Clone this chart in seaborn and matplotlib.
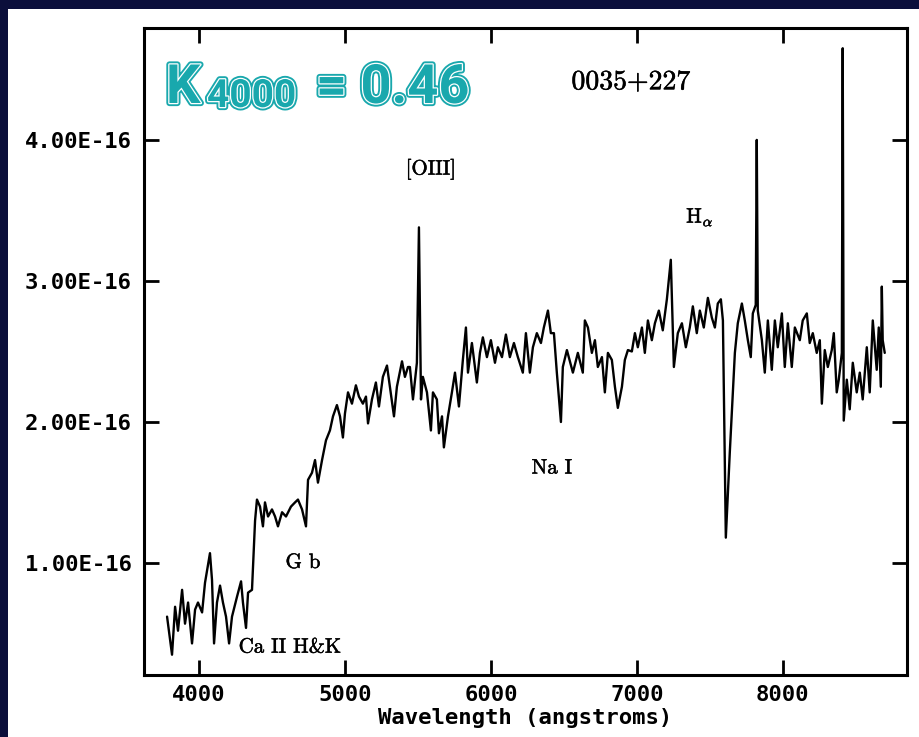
import numpy as np
import pandas as pd
import seaborn as sns
import matplotlib.pyplot as plt
import matplotlib.patheffects as pe
from matplotlib.patches import Rectangle
from matplotlib.ticker import FuncFormatter

# spectrum of 0035+227, wavelength in angstroms, flux in units of 1e-16
wavelength = [3781, 3815, 3836, 3856, 3884, 3904, 3925, 3952, 3973, 3993,
              4021, 4041, 4075, 4089, 4103, 4123, 4144, 4164, 4185, 4206,
              4226, 4260, 4288, 4301, 4322, 4336, 4363, 4384, 4397, 4418,
              4438, 4452, 4473, 4500, 4521, 4541, 4569, 4596, 4630, 4658,
              4678, 4706, 4733,
              4747, 4774, 4795, 4815, 4843, 4870, 4897, 4918, 4945, 4966,
              4986, 5000, 5021, 5048, 5075, 5096, 5123, 5144, 5158, 5185,
              5212, 5233, 5260, 5288, 5308, 5336, 5356, 5391, 5411, 5432,
              5445, 5466, 5493, 5507, 5521, 5534, 5562, 5589, 5603, 5630,
              5644, 5665, 5678, 5706, 5733, 5754, 5781, 5808, 5829, 5843,
              5870, 5891, 5904, 5925, 5945, 5973, 6000, 6028, 6048, 6076,
              6103, 6130, 6158, 6185, 6219, 6240, 6267, 6288, 6315, 6343,
              6363, 6391, 6411, 6432, 6452, 6480, 6493, 6521,
              6562, 6596, 6630, 6644, 6665, 6692, 6713, 6733, 6761, 6781,
              6802, 6829, 6850, 6870, 6898, 6918, 6939, 6966, 6987, 7007,
              7035, 7055, 7076, 7103, 7124, 7151, 7178, 7206, 7233, 7254,
              7281, 7309, 7336, 7363, 7384, 7411, 7432, 7459, 7487, 7514,
              7535, 7555, 7576, 7590, 7610, 7637, 7672, 7692, 7720, 7740,
              7761, 7781, 7795, 7815, 7822, 7829, 7857, 7877, 7898, 7925,
              7946, 7966, 7994, 8014, 8035, 8062, 8083, 8117, 8137, 8165,
              8185, 8206, 8233, 8254, 8268, 8288, 8309, 8336, 8350, 8370,
              8384, 8405, 8411, 8418, 8439, 8459, 8480, 8507, 8528, 8548,
              8576, 8596, 8617, 8644, 8658, 8672, 8679, 8685, 8699]
flux = [0.62, 0.35, 0.69, 0.52, 0.81, 0.57, 0.72, 0.43, 0.67, 0.72,
        0.65, 0.86, 1.07, 0.88, 0.43, 0.72, 0.84, 0.72, 0.62, 0.43,
        0.62, 0.76, 0.87, 0.72, 0.54, 0.79, 0.81, 1.30, 1.45, 1.40,
        1.26, 1.43, 1.33, 1.38, 1.33, 1.26, 1.36, 1.33, 1.40, 1.43,
        1.45, 1.38, 1.26,
        1.59, 1.64, 1.73, 1.57, 1.73, 1.87, 1.94, 2.04, 2.12, 2.04,
        1.89, 2.06, 2.21, 2.13, 2.26, 2.18, 2.13, 2.18, 1.99, 2.16,
        2.28, 2.11, 2.32, 2.40, 2.25, 2.04, 2.25, 2.43, 2.32, 2.39,
        2.39, 2.16, 2.42, 3.38, 2.16, 2.32, 2.21, 1.94, 2.21, 2.16,
        1.92, 2.04, 1.82, 2.04, 2.21, 2.35, 2.11, 2.44, 2.67, 2.35,
        2.56, 2.39, 2.28, 2.49, 2.60, 2.46, 2.58, 2.42, 2.53, 2.46,
        2.62, 2.46, 2.56, 2.46, 2.35, 2.63, 2.35, 2.53, 2.63, 2.56,
        2.67, 2.79, 2.63, 2.63, 2.35, 2.00, 2.39, 2.51,
        2.35, 2.49, 2.35, 2.72, 2.67, 2.49, 2.58, 2.39, 2.46, 2.21,
        2.49, 2.44, 2.25, 2.10, 2.25, 2.44, 2.51, 2.50, 2.63, 2.53,
        2.67, 2.49, 2.72, 2.58, 2.70, 2.79, 2.65, 2.87, 3.15, 2.39,
        2.63, 2.70, 2.53, 2.67, 2.82, 2.63, 2.79, 2.67, 2.88, 2.74,
        2.67, 2.84, 2.87, 2.72, 1.18, 1.78, 2.49, 2.70, 2.84, 2.72,
        2.58, 2.46, 2.77, 2.83, 4.00, 2.79, 2.58, 2.35, 2.72, 2.37,
        2.72, 2.53, 2.77, 2.39, 2.70, 2.39, 2.67, 2.58, 2.72, 2.77,
        2.56, 2.63, 2.49, 2.58, 2.13, 2.51, 2.39, 2.51, 2.63, 2.21,
        2.30, 2.49, 4.65, 2.01, 2.30, 2.09, 2.42, 2.21, 2.35, 2.16,
        2.53, 2.21, 2.72, 2.37, 2.67, 2.25, 2.96, 2.58, 2.49]

x_ticks = [4000, 5000, 6000, 7000, 8000]
y_ticks = [1e-16, 2e-16, 3e-16, 4e-16]

# line labels: (text, wavelength, flux/1e-16)
labels = [("[OIII]", 5589, 3.79),
          (r"H$_\alpha$", 7432, 3.45),
          ("Na I", 6418, 1.67),
          ("G b", 4712, 1.00),
          ("Ca II H&K", 4623, 0.40)]

df = pd.DataFrame({"wl": wavelength, "flux": np.array(flux) * 1e-16})

sns.set_style("ticks")
plt.rcParams["mathtext.fontset"] = "cm"

fig = plt.figure(figsize=(9.19, 7.37), dpi=100, facecolor="#0b0f3b")
fig.patches.append(Rectangle((8 / 919, 0), 1, (737 - 9) / 737,
                             transform=fig.transFigure, facecolor="white",
                             edgecolor="none", zorder=-5))
ax = fig.add_axes([0.1567, 0.0841, 0.830, 0.878])
ax.set_zorder(2)
ax.set_facecolor("white")

sns.lineplot(data=df, x="wl", y="flux", sort=False, estimator=None,
             color="black", linewidth=1.7, ax=ax)

ax.set_xlim(3623, 8850)
ax.set_ylim(0.206e-16, 4.794e-16)
ax.set_xticks(x_ticks)
ax.set_yticks(y_ticks)
ax.yaxis.set_major_formatter(FuncFormatter(lambda v, p: f"{v:.2E}"))
ax.tick_params(direction="in", length=11, width=2, top=True, right=True,
               labelsize=16, color="black", labelcolor="black")
ax.tick_params(axis="y", pad=9)
ax.tick_params(axis="x", pad=7)
for lab in ax.get_xticklabels() + ax.get_yticklabels():
    lab.set_fontfamily("DejaVu Sans Mono")
    lab.set_fontweight("bold")
for sp in ax.spines.values():
    sp.set_linewidth(2.2)
    sp.set_color("black")

ax.set_ylabel("")
ax.set_xlabel("Wavelength (angstroms)", fontsize=16, fontweight="bold",
              family="DejaVu Sans Mono", color="black", labelpad=2)

serif = ["cmr10", "DejaVu Serif"]
ink = [pe.withStroke(linewidth=0.35, foreground="black")]
ax.text(6959, 4.41e-16, "0035+227", fontsize=20, family=serif,
        color="black", ha="center", va="center", path_effects=ink)
for txt, x, y in labels:
    ax.text(x, y * 1e-16, txt, fontsize=15, family=serif, color="black",
            ha="center", va="center", path_effects=ink)

teal = "#19a8ad"
fx = [pe.Stroke(linewidth=4.5, foreground=teal),
      pe.Stroke(linewidth=1.8, foreground="white"), pe.Normal()]
fig.text(166 / 919, 1 - 103 / 737, "K", fontsize=39, fontweight="bold",
         family="Roboto", color=teal, va="baseline", path_effects=fx,
         zorder=5)
fig.text(207 / 919, 1 - 107 / 737, "4000", fontsize=28, fontweight="bold",
         family="Roboto", color=teal, va="baseline", path_effects=fx,
         zorder=5)
fig.text(316 / 919, 1 - 103 / 737, "= 0.46", fontsize=39, fontweight="bold",
         family="Roboto", color=teal, va="baseline", path_effects=fx,
         zorder=5)

fig.savefig("out.png", dpi=100, facecolor=fig.get_facecolor())
